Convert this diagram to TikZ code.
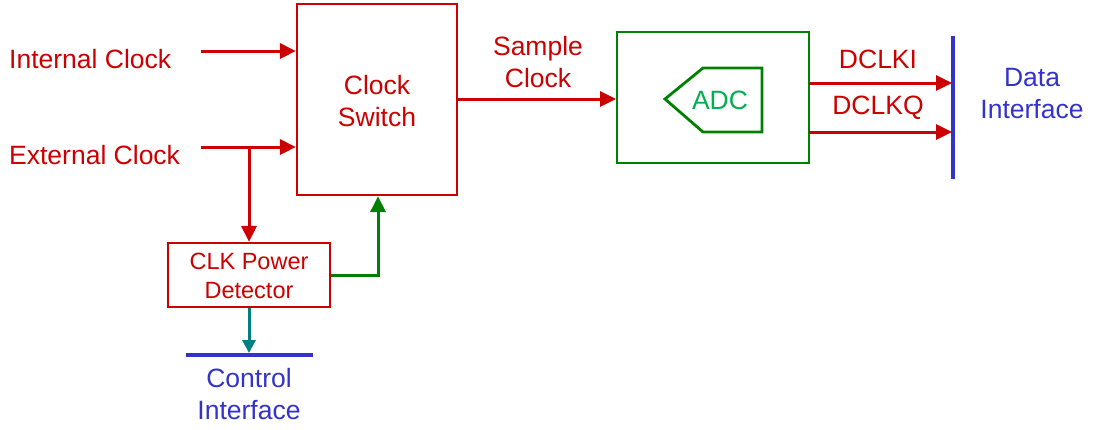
\documentclass[tikz,border=0pt]{standalone}
\usepackage{fontspec}
\setmainfont{Liberation Sans}
\usetikzlibrary{arrows.meta}
\definecolor{cred}{RGB}{204,0,0}
\definecolor{cgreen}{RGB}{0,128,0}
\definecolor{cadc}{RGB}{0,176,80}
\definecolor{cblue}{RGB}{51,51,204}
\definecolor{cteal}{RGB}{0,128,128}
\begin{document}
\begin{tikzpicture}[x=1pt,y=-1pt,
  lbl/.style={font=\fontsize{26.5}{32}\selectfont, align=center, inner sep=0pt},
  redbox/.style={draw=cred, line width=2.2pt, inner sep=0pt},
  sig/.style={line width=3pt, -{Triangle[length=16pt,width=15pt]}},
  bar/.style={draw=cblue, line width=4.5pt}]
\useasboundingbox (0,0) rectangle (1094,429);
% Clock switch
\node[redbox, minimum width=160pt, minimum height=191pt] (sw) at (377,99.5) {};
\node[lbl, text=cred] (swt) at (377,101) {Clock\\Switch};
% CLK power detector
\node[redbox, minimum width=162pt, minimum height=64pt] (det) at (249,275) {};
\node[lbl, text=cred, font=\fontsize{23.5}{29}\selectfont] (dett) at (249,276) {CLK Power\\Detector};
% ADC box
\node[draw=cgreen, line width=2pt, minimum width=192pt, minimum height=131pt, inner sep=0pt] (adc) at (713,97.5) {};
\draw[cgreen, line width=2.8pt] (665,99) -- (703,68) -- (762,68) -- (762,132) -- (703,132) -- cycle;
\node[lbl, text=cadc] (adct) at (720,100) {ADC};
% inputs
\node[lbl, text=cred, anchor=west] (int) at (9,59) {Internal Clock};
\node[lbl, text=cred, anchor=west] (ext) at (9,155) {External Clock};
\coordinate (intS) at (201,51);
\coordinate (extS) at (201,147);
\coordinate (br) at (249,147);
\draw[sig, cred] (intS) -- (intS -| sw.west);
\draw[sig, cred] (extS) -- (extS -| sw.west);
\draw[sig, cred] (br) -- (det.north);
% green feedback
\coordinate (gc) at (378,275);
\draw[sig, cgreen] (det.east) -- (gc) -- (gc |- sw.south);
% control interface
\coordinate (cbL) at (186,355);
\coordinate (cbR) at (313,355);
\draw[bar] (cbL) -- (cbR);
\draw[sig, cteal, -{Triangle[length=13pt,width=13pt]}] (det.south) -- (249,353);
\node[lbl, text=cblue] (ci) at (249,394) {Control\\Interface};
% sample clock
\coordinate (sc) at (457,99);
\draw[sig, cred] (sc) -- (sc -| adc.west);
\node[lbl, text=cred] (sct) at (538,62) {Sample\\Clock};
% data interface
\coordinate (dT) at (953,36);
\coordinate (dB) at (953,179);
\draw[bar] (dT) -- (dB);
\coordinate (d1) at (809,83);
\coordinate (d2) at (809,132);
\draw[sig, cred] (d1) -- ([xshift=-1pt]d1 -| dT);
\draw[sig, cred] (d2) -- ([xshift=-1pt]d2 -| dT);
\node[lbl, text=cred] (dclki) at (878,59) {DCLKI};
\node[lbl, text=cred] (dclkq) at (878,108) {DCLKQ};
\node[lbl, text=cblue] (di) at (1032,94) {Data\\Interface};
\end{tikzpicture}
\end{document}
